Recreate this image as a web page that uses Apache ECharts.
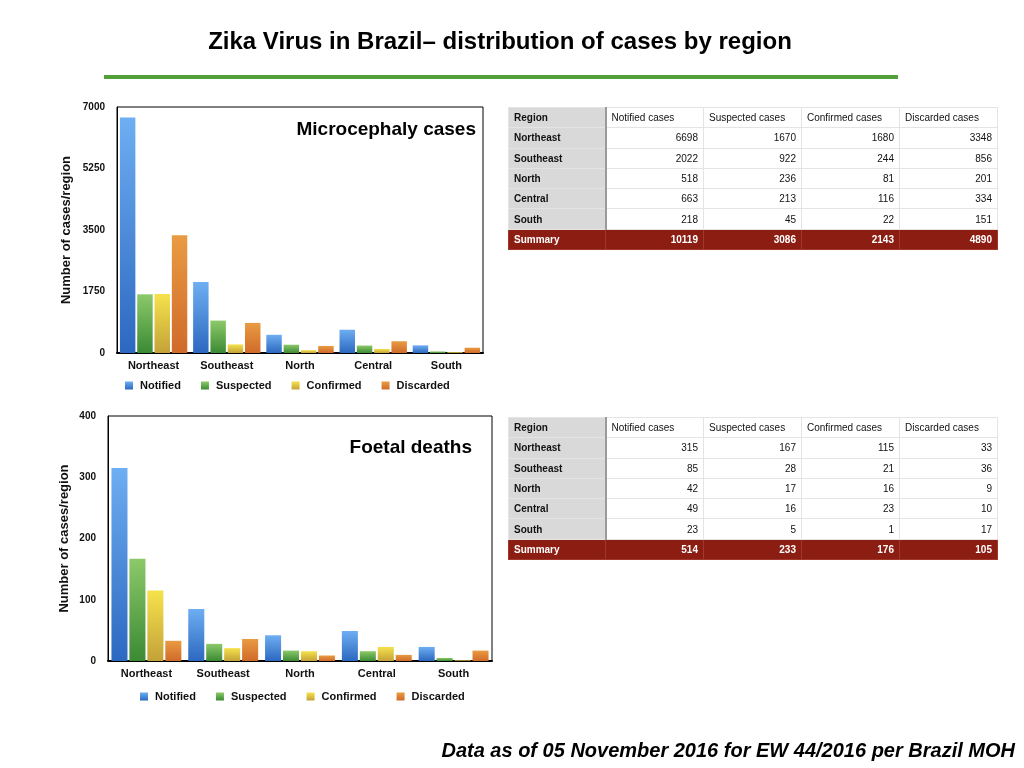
<!DOCTYPE html>
<html>
<head>
<meta charset="utf-8">
<script src="https://cdn.jsdelivr.net/npm/echarts@6/dist/echarts.min.js"></script>
<style>
  html, body { margin: 0; padding: 0; background: #fff; }
  #chart { position: absolute; left: 0; top: 0; width: 1024px; height: 768px; }
  .tbl { position: absolute; left: 508px; border-collapse: collapse; font-family: "Liberation Sans", Arial, sans-serif; font-size: 10px; color: #111; }
  .tbl td { border: 1px solid #e4e4e4; height: 20.3px; padding: 0 5px; box-sizing: border-box; }
  .tbl td.rg { background: #d9d9d9; font-weight: bold; width: 97px; border-right: 2px solid #9a9a9a; }
  .tbl td.num { text-align: right; width: 98px; }
  .tbl td.hd { text-align: left; width: 98px; }
  .tbl tr.sum td { background: #8c1d12; color: #fff; font-weight: bold; border-color: #a0392c; }
</style>
</head>
<body>
<div id="chart"></div>
<table class="tbl" id="t1" style="top:107px"></table>
<table class="tbl" id="t2" style="top:417px"></table>
<script>
// 数据
var regions = ['Northeast', 'Southeast', 'North', 'Central', 'South'];
var seriesNames = ['Notified', 'Suspected', 'Confirmed', 'Discarded'];
var colHeaders = ['Notified cases', 'Suspected cases', 'Confirmed cases', 'Discarded cases'];

var microNotified = [6698, 2022, 518, 663, 218];
var microSuspected = [1670, 922, 236, 213, 45];
var microConfirmed = [1680, 244, 81, 116, 22];
var microDiscarded = [3348, 856, 201, 334, 151];
var microTotals = [10119, 3086, 2143, 4890];

var foetalNotified = [315, 85, 42, 49, 23];
var foetalSuspected = [167, 28, 17, 16, 5];
var foetalConfirmed = [115, 21, 16, 23, 1];
var foetalDiscarded = [33, 36, 9, 10, 17];
var foetalTotals = [514, 233, 176, 105];

var microTicks = [0, 1750, 3500, 5250, 7000];
var foetalTicks = [0, 100, 200, 300, 400];

// 表格
function fillTable(id, cols, totals) {
    var html = '<tr><td class="rg">Region</td>';
    for (var j = 0; j < colHeaders.length; j++) {
        html += '<td class="hd">' + colHeaders[j] + '</td>';
    }
    html += '</tr>';
    for (var i = 0; i < regions.length; i++) {
        html += '<tr><td class="rg">' + regions[i] + '</td>';
        for (var k = 0; k < cols.length; k++) {
            html += '<td class="num">' + cols[k][i] + '</td>';
        }
        html += '</tr>';
    }
    html += '<tr class="sum"><td class="rg" style="background:#8c1d12;border-right:1px solid #a0392c">Summary</td>';
    for (var t = 0; t < totals.length; t++) {
        html += '<td class="num">' + totals[t] + '</td>';
    }
    html += '</tr>';
    document.getElementById(id).innerHTML = html;
}
fillTable('t1', [microNotified, microSuspected, microConfirmed, microDiscarded], microTotals);
fillTable('t2', [foetalNotified, foetalSuspected, foetalConfirmed, foetalDiscarded], foetalTotals);

// 颜色
function grad(top, bottom) {
    return new echarts.graphic.LinearGradient(0, 0, 0, 1, [
        { offset: 0, color: top },
        { offset: 1, color: bottom }
    ]);
}
var colors = [
    grad('#6eaef2', '#2c68c0'),
    grad('#8cc96a', '#3b8a34'),
    grad('#f6e24c', '#c3a238'),
    grad('#e99b42', '#d06a2a')
];

var font = '"Liberation Sans", Arial, sans-serif';

function makeSeries(xi, lists, catGap) {
    var out = [];
    for (var i = 0; i < lists.length; i++) {
        out.push({
            name: seriesNames[i],
            type: 'bar',
            xAxisIndex: xi,
            yAxisIndex: xi,
            data: lists[i],
            itemStyle: { color: colors[i] },
            barGap: '12%',
            barCategoryGap: catGap
        });
    }
    return out;
}

function xAx(gi) {
    return {
        type: 'category',
        gridIndex: gi,
        data: regions,
        axisTick: { show: false },
        axisLine: { lineStyle: { color: '#000', width: 2 } },
        axisLabel: { color: '#111', fontWeight: 'bold', fontSize: 11, margin: 7, fontFamily: font }
    };
}
function yAx(gi, ticks, gap) {
    return {
        type: 'value',
        gridIndex: gi,
        min: ticks[0],
        max: ticks[ticks.length - 1],
        interval: ticks[1] - ticks[0],
        name: 'Number of cases/region',
        nameLocation: 'middle',
        nameGap: gap,
        nameTextStyle: { color: '#111', fontWeight: 'bold', fontSize: 13, fontFamily: font },
        splitLine: { show: false },
        axisTick: { show: false },
        axisLine: { show: true, lineStyle: { color: '#000', width: 1 } },
        axisLabel: {
            color: '#111', fontWeight: 'bold', fontSize: 10, margin: 12, fontFamily: font,
            formatter: function (v) { return String(v); }
        }
    };
}
function legendAt(left, top) {
    return {
        data: seriesNames,
        left: left,
        top: top,
        icon: 'rect',
        itemWidth: 8,
        itemHeight: 8,
        itemGap: 20,
        selectedMode: false,
        textStyle: { color: '#111', fontWeight: 'bold', fontSize: 11, fontFamily: font, padding: [0, 0, 0, 2] }
    };
}

var myChart = echarts.init(document.getElementById('chart'));

var option = {
    animation: false,
    backgroundColor: '#fff',
    grid: [
        { left: 117, top: 107, width: 366, height: 246, show: true, borderColor: '#000', borderWidth: 1 },
        { left: 108, top: 416, width: 384, height: 245, show: true, borderColor: '#000', borderWidth: 1 }
    ],
    legend: [legendAt(120, 375), legendAt(135, 686)],
    xAxis: [xAx(0), xAx(1)],
    yAxis: [yAx(0, microTicks, 44), yAx(1, foetalTicks, 37)],
    series: makeSeries(0, [microNotified, microSuspected, microConfirmed, microDiscarded], '8%')
        .concat(makeSeries(1, [foetalNotified, foetalSuspected, foetalConfirmed, foetalDiscarded], '9%')),
    graphic: [
        {
            type: 'text', x: 500, y: 42,
            style: { text: 'Zika Virus in Brazil\u2013 distribution of cases by region', fill: '#000', font: 'bold 24px ' + font, align: 'center', verticalAlign: 'middle' }
        },
        {
            type: 'rect', shape: { x: 104, y: 75, width: 794, height: 4 },
            style: { fill: '#52a03a' }
        },
        {
            type: 'text', x: 476, y: 130,
            style: { text: 'Microcephaly cases', fill: '#000', font: 'bold 19px ' + font, align: 'right', verticalAlign: 'middle' }
        },
        {
            type: 'text', x: 472, y: 448,
            style: { text: 'Foetal deaths', fill: '#000', font: 'bold 19px ' + font, align: 'right', verticalAlign: 'middle' }
        },
        {
            type: 'text', x: 1015, y: 751,
            style: { text: 'Data as of 05 November 2016 for EW 44/2016 per Brazil MOH', fill: '#000', font: 'italic bold 20px ' + font, align: 'right', verticalAlign: 'middle' }
        }
    ]
};

myChart.setOption(option);
</script>
</body>
</html>
